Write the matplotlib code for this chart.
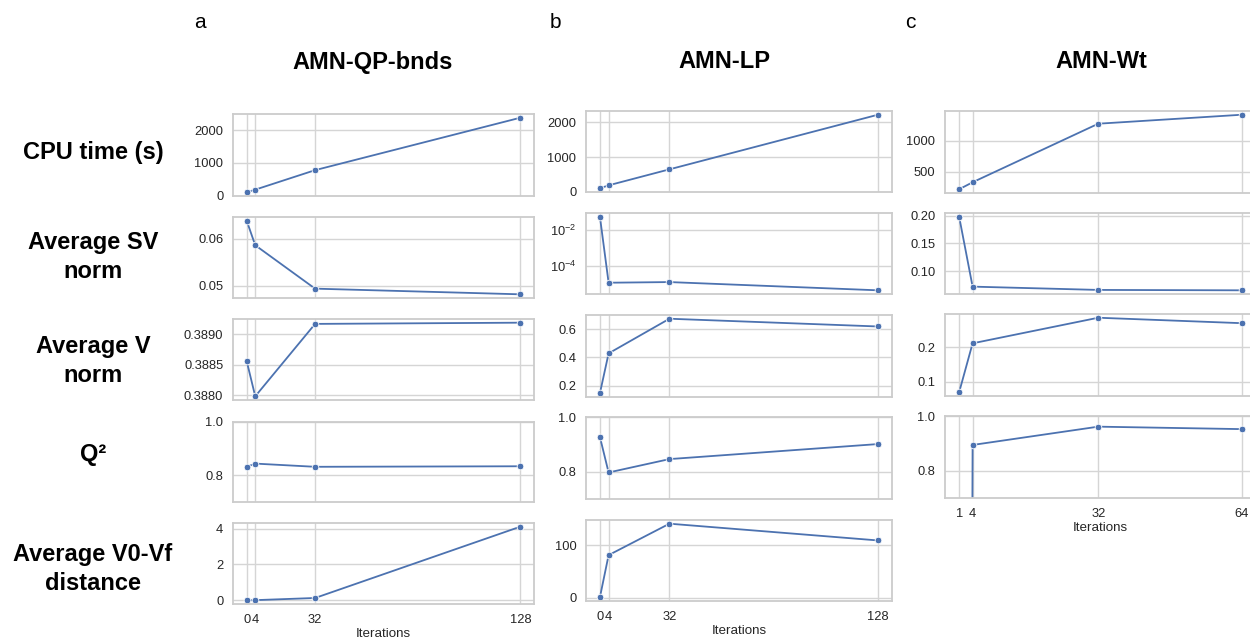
import matplotlib
matplotlib.use("Agg")
import matplotlib.pyplot as plt
from matplotlib.ticker import FormatStrFormatter, LogLocator, NullLocator
import numpy as np

plt.rcParams['font.family'] = ['Liberation Sans', 'DejaVu Sans']
plt.rcParams['mathtext.fontset'] = 'custom'
plt.rcParams['mathtext.rm'] = 'Liberation Sans'
plt.rcParams['mathtext.it'] = 'Liberation Sans:italic'
plt.rcParams['mathtext.bf'] = 'Liberation Sans:bold'

# ---------------- data ----------------
iters_qp = [0, 4, 32, 128]
iters_lp = [0, 4, 32, 128]
iters_wt = [1, 4, 32, 64]

qp_cpu = [105, 185, 780, 2380]
qp_sv = [0.0638, 0.0586, 0.0494, 0.0482]
qp_v = [0.38856, 0.38798, 0.38917, 0.38919]
qp_q2 = [0.8315, 0.844, 0.832, 0.834]
qp_dist = [0.0, 0.01, 0.13, 4.11]

lp_cpu = [98, 184, 645, 2220]
lp_sv = [0.051, 1.18e-5, 1.28e-5, 4.5e-6]
lp_v = [0.145, 0.428, 0.674, 0.619]
lp_q2 = [0.927, 0.797, 0.846, 0.901]
lp_dist = [1.0, 81.5, 141.5, 109.5]

wt_cpu = [216, 329, 1274, 1419]
wt_sv = [0.198, 0.0728, 0.0669, 0.0662]
wt_v = [0.0686, 0.212, 0.287, 0.271]
wt_q2 = [-12.0, 0.894, 0.961, 0.952]

row_labels = ["CPU time (s)", "Average SV\nnorm", "Average V\nnorm", "Q²",
              "Average V0-Vf\ndistance"]
col_titles = ["AMN-QP-bnds", "AMN-LP", "AMN-Wt"]
panel_letters = ["a", "b", "c"]

# ---------------- layout ----------------
W, H = 1250, 639
fig = plt.figure(figsize=(W / 100, H / 100), dpi=100)

BLUE = "#4c72b0"
GRID = "#d5d5d5"
SPINE = "#cccccc"
TXT = "#262626"


def add_ax(l, t, r, b):
    return fig.add_axes([l / W, 1 - b / H, (r - l) / W, (b - t) / H])


def style(ax, xt, show_x):
    ax.set_facecolor("white")
    for s in ax.spines.values():
        s.set_color(SPINE)
        s.set_linewidth(1.3)
    ax.grid(True, color=GRID, linewidth=1.0)
    ax.set_axisbelow(True)
    ax.tick_params(axis='both', length=0, labelsize=9.3, colors=TXT, pad=7)
    ax.set_xticks(xt)
    if show_x:
        ax.set_xticklabels([str(v) for v in xt])
        ax.set_xlabel("Iterations", fontsize=9.6, color=TXT, labelpad=1.5)
    else:
        ax.set_xticklabels([])


def draw(ax, x, y):
    ax.plot(x, y, color=BLUE, lw=1.3, marker='o', ms=4.8,
            mec='white', mew=0.6, clip_on=True)


cols = [
    dict(l=233, r=534, rows=[(114, 196), (217, 298), (319, 400), (422, 502), (523, 604)],
         x=iters_qp, data=[qp_cpu, qp_sv, qp_v, qp_q2, qp_dist]),
    dict(l=586, r=892, rows=[(111, 192), (213, 294), (315, 397), (417, 499), (520, 601)],
         x=iters_lp, data=[lp_cpu, lp_sv, lp_v, lp_q2, lp_dist]),
    dict(l=945, r=1256, rows=[(111, 193), (213, 294), (314, 396), (416, 498)],
         x=iters_wt, data=[wt_cpu, wt_sv, wt_v, wt_q2]),
]

yticks = {
    (0, 0): [0, 1000, 2000], (0, 1): [0.05, 0.06], (0, 2): [0.3880, 0.3885, 0.3890],
    (0, 3): [0.8, 1.0], (0, 4): [0, 2, 4],
    (1, 0): [0, 1000, 2000], (1, 2): [0.2, 0.4, 0.6], (1, 3): [0.8, 1.0], (1, 4): [0, 100],
    (2, 0): [500, 1000], (2, 1): [0.10, 0.15, 0.20], (2, 2): [0.1, 0.2], (2, 3): [0.8, 1.0],
}
fmts = {
    (0, 1): "%.2f", (0, 2): "%.4f", (0, 3): "%.1f",
    (1, 2): "%.1f", (1, 3): "%.1f",
    (2, 1): "%.2f", (2, 2): "%.1f", (2, 3): "%.1f",
}

for ci, c in enumerate(cols):
    nrows = len(c['rows'])
    for ri, (t, b) in enumerate(c['rows']):
        ax = add_ax(c['l'], t, c['r'], b)
        style(ax, c['x'], ri == nrows - 1)
        draw(ax, c['x'], c['data'][ri])
        if ci == 1 and ri == 1:
            ax.set_yscale('log')
            ax.yaxis.set_minor_locator(NullLocator())
            ax.set_yticks([1e-2, 1e-4])
            ax.set_yticklabels([r"$10^{-2}$", r"$10^{-4}$"])
        else:
            ax.set_yticks(yticks[(ci, ri)])
            if (ci, ri) in fmts:
                ax.yaxis.set_major_formatter(FormatStrFormatter(fmts[(ci, ri)]))
        if ri == 3:
            ax.set_ylim(0.7, 1.0)
        ax.set_xlim(c['x'][0] - 0.05 * (c['x'][-1] - c['x'][0]),
                    c['x'][-1] + 0.05 * (c['x'][-1] - c['x'][0]))

# row labels
row_y = [153, 257, 361, 455, 569]
for lab, yy in zip(row_labels, row_y):
    fig.text(93 / W, 1 - yy / H, lab, ha='center', va='center', fontsize=17,
             fontweight='bold', color='black', linespacing=1.3)

# column titles and letters
title_x = [373, 724, 1101]
letter_x = [200, 555, 910]
for tx, lx, tt, lt in zip(title_x, letter_x, col_titles, panel_letters):
    fig.text(tx / W, 1 - 62 / H, tt, ha='center', va='center', fontsize=17,
             fontweight='bold', color='black')
    fig.text(lx / W, 1 - 22 / H, lt, ha='center', va='center', fontsize=15,
             color='black')

fig.savefig("out.png", dpi=100, facecolor='white')
